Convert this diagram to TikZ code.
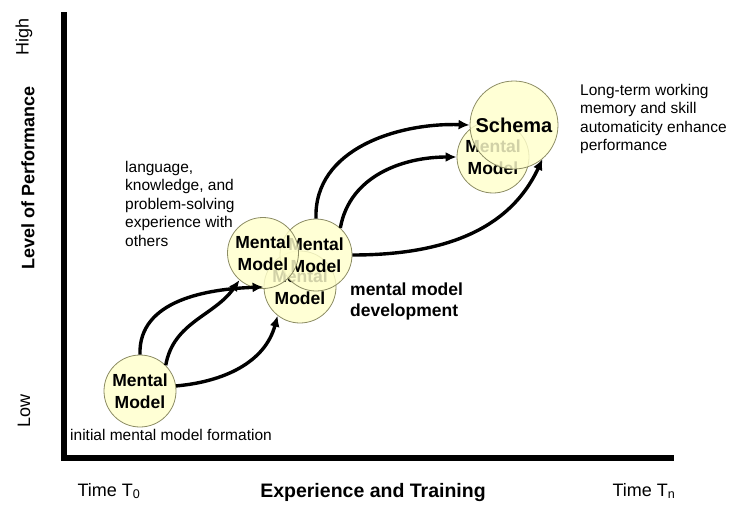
\documentclass[tikz,border=0pt]{standalone}
\usepackage{fontspec}
\setmainfont{Liberation Sans}
\usetikzlibrary{arrows.meta}
\definecolor{cream}{RGB}{255, 255, 204}
\definecolor{rim}{RGB}{140, 140, 100}
\colorlet{arc}{black}
\tikzset{
  bubble/.style={circle, minimum size=72pt, inner sep=0, align=center, draw=rim, line width=0.8pt,
    fill=cream, fill opacity=0.82, text opacity=1, font=\fontsize{17.5}{22}\selectfont\bfseries},
  note/.style={anchor=north west, align=left, inner sep=0, font=\fontsize{15.5}{18.5}\selectfont},
  flow/.style={->, line width=3.4pt, draw=arc}
}
\newcommand{\bubble}[5][]{
  \node[bubble, #1] (#2) at (#3, #4) {#5};
}

\begin{document}
\begin{tikzpicture}[x=1pt, y=-1pt, >={Latex[length=11pt, width=10pt]}]
      \useasboundingbox (0,0) rectangle (729,506);
      \coordinate (top) at (64,12);
      \coordinate (origin) at (64,458);
      \coordinate (far) at (674,458);
      \draw[line width=6pt, line join=miter] (top) -- (origin) -- (far);

      \bubble{init}{140}{391}{Mental\\Model}
      \bubble{low}{300}{287}{Mental\\Model}
      \bubble{right}{316}{255}{Mental\\Model}
      \bubble[minimum size=71pt]{left}{263}{253}{Mental\\Model}
      \bubble{behind}{493}{157}{Mental\\Model}
      \bubble[minimum size=88pt, font=\fontsize{20}{24}\selectfont\bfseries]{schema}{514}{125}{Schema}

      \draw[flow] (init.north) to[out=92, in=182] (low.west);
      \draw[flow] (init.45) to[out=80, in=235] (left.229);
      \draw[flow] (init.8) to[out=5, in=255] (low.232);
      \draw[flow] (right.north) to[out=92, in=178] (schema.west);
      \draw[flow] (right.48) to[out=80, in=180] (behind.west);
      \draw[flow] (right.east) to[out=0, in=245] (schema.-50);

      \node[rotate=90, font=\fontsize{18}{22}\selectfont] (high) at (24,37) {High};
      \node[rotate=90, font=\fontsize{18}{22}\selectfont\bfseries] (level) at (28,178) {Level of Performance};
      \node[rotate=90, font=\fontsize{18}{22}\selectfont] (lowlbl) at (24,411) {Low};
      \node[anchor=west, font=\fontsize{18}{22}\selectfont] (t0) at (74,491) {Time T\textsubscript{0}};
      \node[font=\fontsize{19.5}{22}\selectfont\bfseries] (xlabel) at (373,492) {Experience and Training};
      \node[anchor=west, font=\fontsize{18}{22}\selectfont] (tn) at (609,491) {Time T\textsubscript{n}};

      \node[note] (formation) at (70,429) {initial mental model formation};
      \node[note] (social) at (125,161) {language,\\knowledge, and\\problem-solving\\experience with\\others};
      \node[note] (longterm) at (580,84) {Long-term working\\memory and skill\\automaticity enhance\\performance};
      \node[note, font=\fontsize{17.5}{21}\selectfont\bfseries] (develop) at (350,283) {mental model\\development};
\end{tikzpicture}
\end{document}
